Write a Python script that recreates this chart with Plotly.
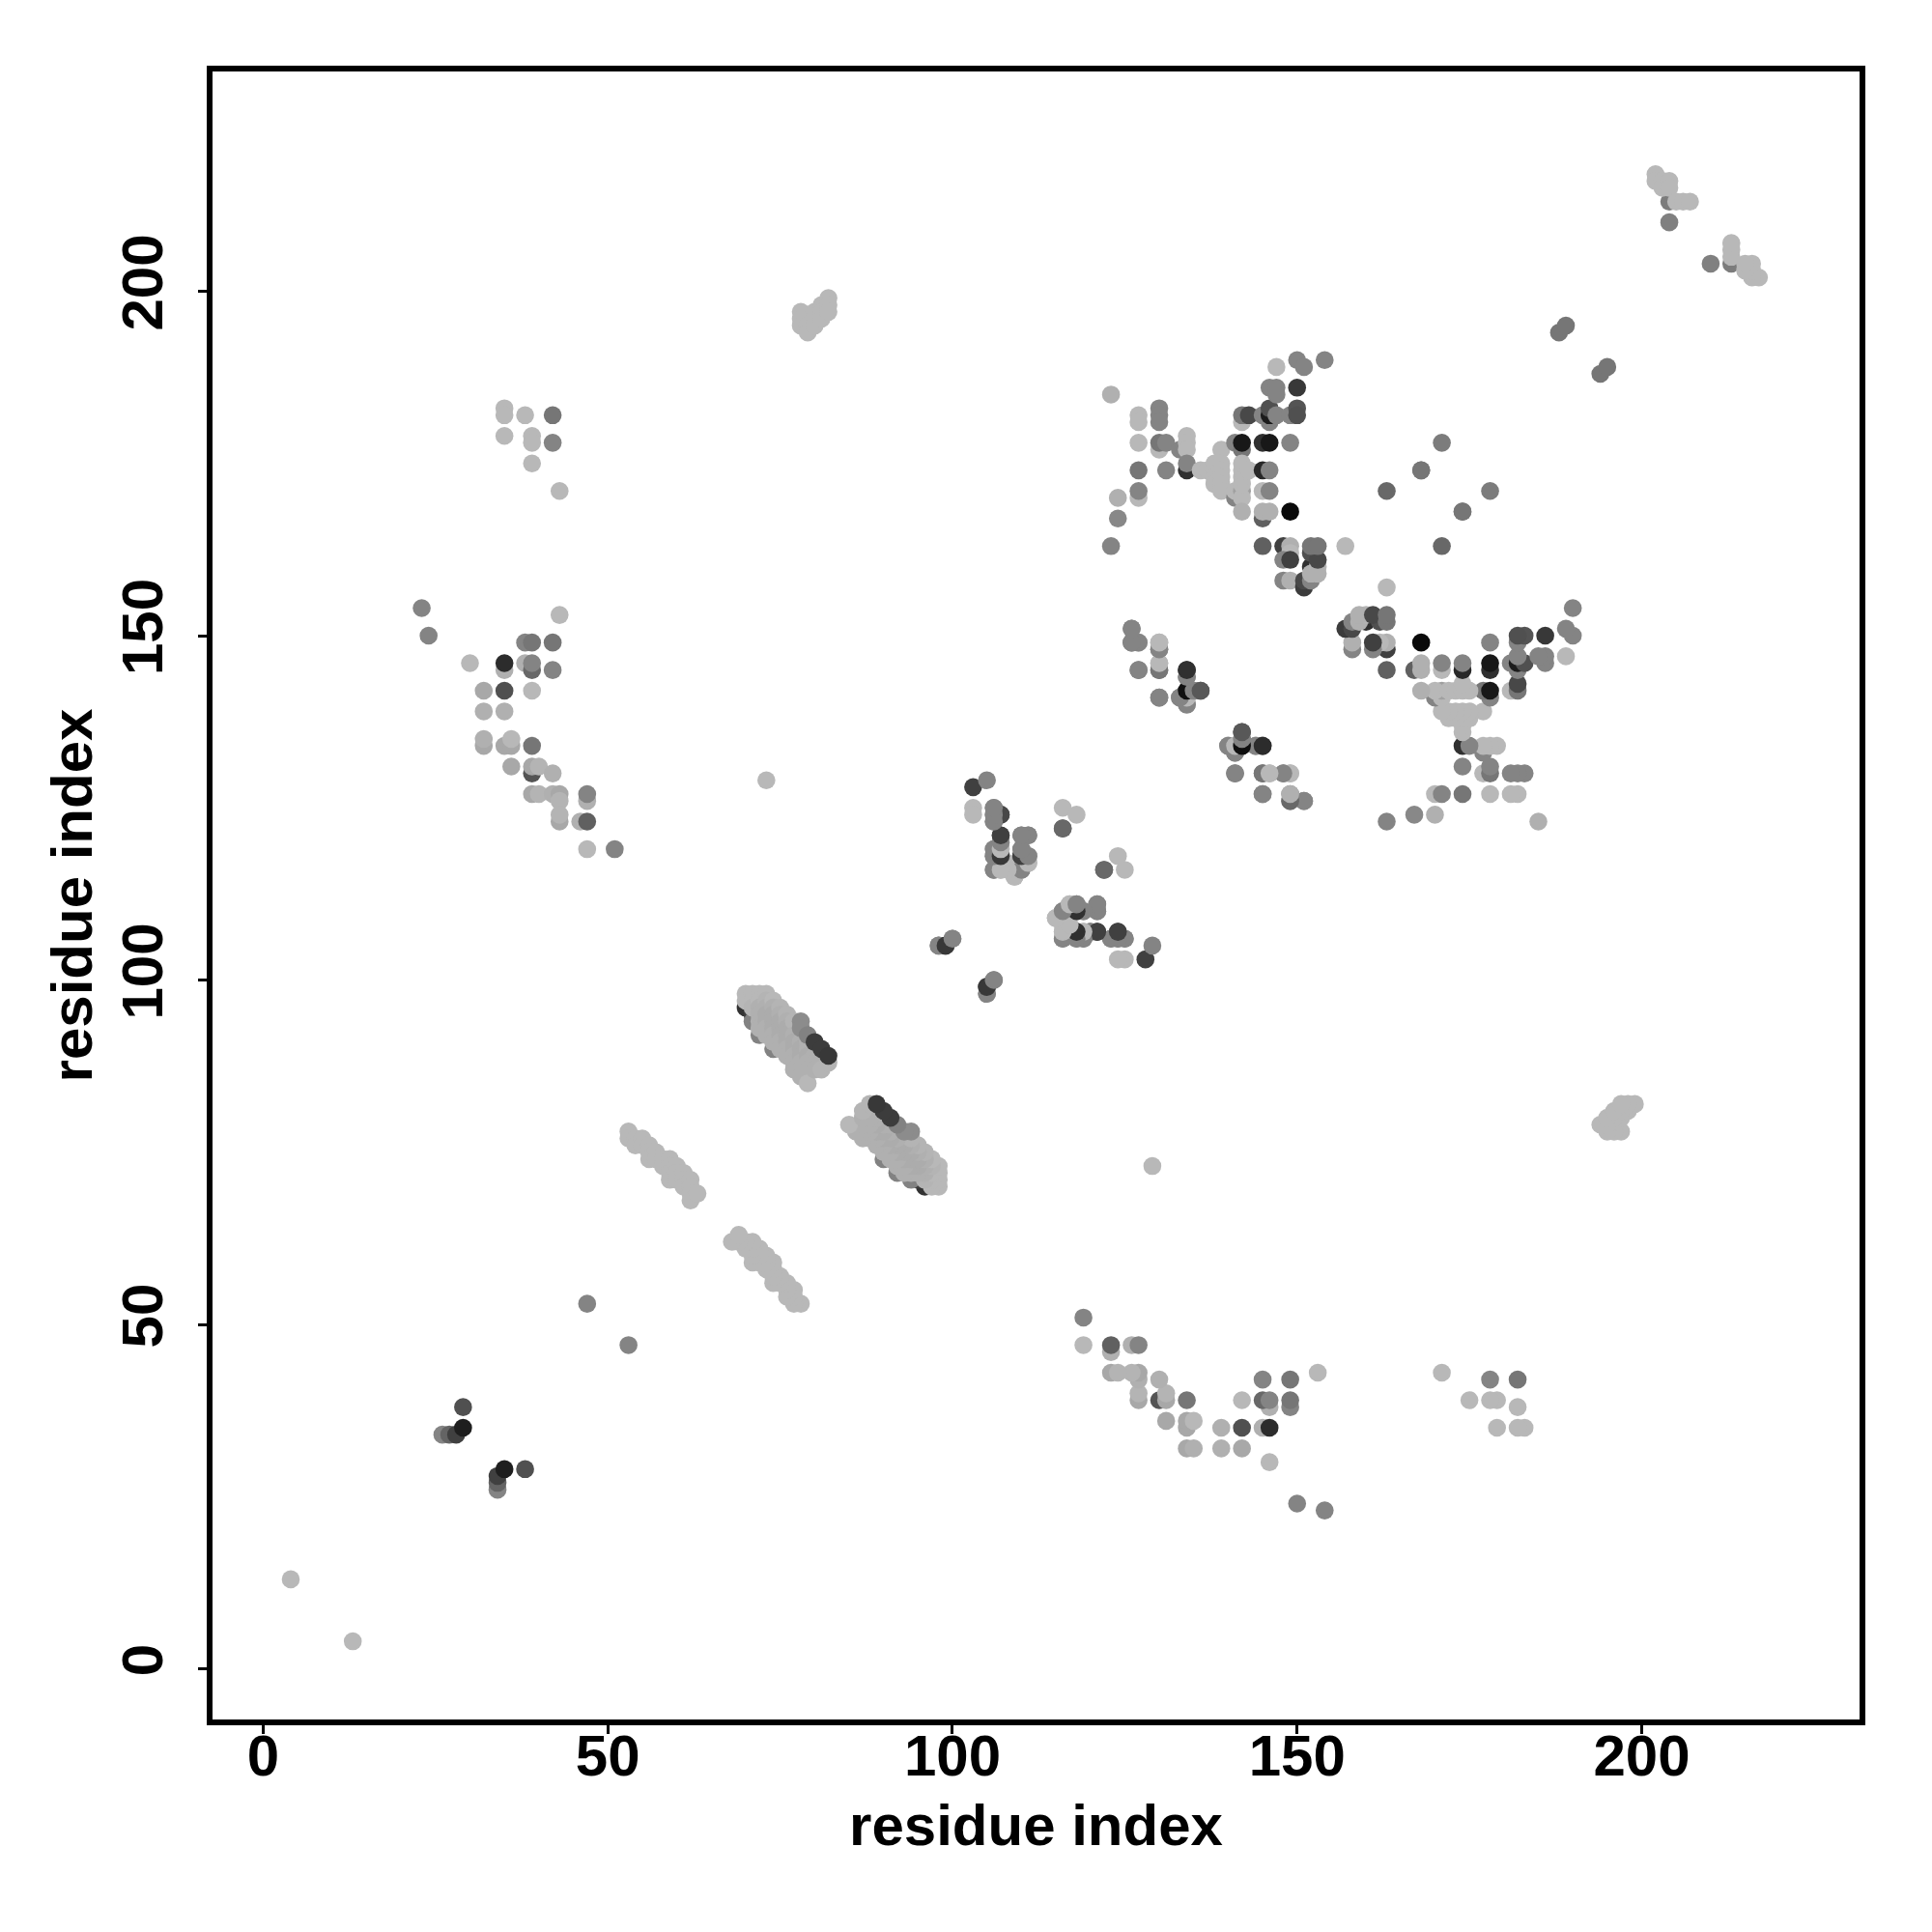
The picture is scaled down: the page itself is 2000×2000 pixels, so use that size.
import plotly.graph_objects as go

# contacts: (residue i, residue j, grey level); the map is symmetric, each pair is drawn at (i,j) and (j,i)
short_range = [(4,13,184),(47,53,132),(73,129,184),(26,34,132),(27,34,100),(28,34,64),(29,38,80),(29,35,30)]

strand_pair_a = [(53,78,184),(53,77,184),(54,77,184),(54,76,184),(55,77,184),(55,76,184),(56,76,184),(56,75,184),
    (56,74,184),(57,75,184),(57,74,184),(58,74,184),(58,73,184),(59,74,184),(59,73,184),(59,72,184),(59,71,184),
    (60,73,184),(60,72,184),(60,71,184),(61,72,184),(61,71,184),(61,70,184),(62,71,184),(62,70,184),(62,69,184),
    (62,68,184),(63,69,184)]

strand_pair_b_under = [(70,96,50),(71,95,60),(71,94,130),(72,92,130),(74,90,130)]
strand_pair_b = [(70,98,184),(70,97,184),(71,98,184),(71,97,184),(71,96,180),(72,98,184),(72,97,184),(72,96,176),
    (72,95,176),(72,94,176),(72,93,176),(73,98,184),(73,97,180),(73,96,176),(73,95,172),(73,94,172),(73,93,176),(73,92,176),(74,97,184),
    (74,96,176),(74,95,172),(74,94,172),(74,93,172),(74,92,176),(74,91,176),(75,96,180),(75,95,176),(75,94,172),
    (75,93,172),(75,92,172),(75,91,176),(75,90,176),(76,95,180),(76,94,176),(76,93,172),(76,92,172),(76,91,172),
    (76,90,176),(76,89,176),(77,94,180),(77,92,176),(77,91,172),(77,90,172),(77,89,176),(77,88,176),(77,87,176),(78,91,176),(78,90,172),
    (78,89,172),(78,88,176),(78,87,176),(78,86,176),(79,91,176),(79,90,176),(79,89,172),(79,88,176),(79,87,176),(79,85,184),
    (80,89,176),(80,88,176),(80,87,176),(81,88,176),(81,87,180),(82,88,180)]
strand_pair_b_over = [(78,94,140),(78,93,140),(79,92,130),(80,91,60),(81,90,60),(82,89,56)]

small_patches = [(78,197,184),(78,196,184),(78,195,184),(79,195,184),(79,194,184),(80,197,184),(80,196,184),(80,195,184),
    (81,198,184),(81,197,184),(81,196,184),(82,199,184),(82,198,184),(82,197,184),
    (204,213,124),(202,217,184),(202,216,184),(203,216,184),(203,215,184),(204,216,184),(204,215,184),(205,213,184),
    (206,213,184),(207,213,184),(204,210,128),(188,194,118),(189,195,118),(98,105,132),(99,105,56),(100,106,132),(105,98,132)]
near_diag_105 = [(105,99,56),(106,100,132)]

cluster_103_129 = [(103,128,64),(105,129,132),(103,125,184),(103,124,184),(106,125,132),(106,124,132),(106,123,132),(107,124,64),
    (107,120,132),(107,121,64),(106,119,132),(107,119,184),(106,118,132),(106,116,132),(107,118,48),(107,116,184),
    (108,117,184),(109,116,184),(109,115,184),(110,121,132),(111,121,132),(110,119,132),(110,118,48),(110,116,132),
    (111,117,184),(111,118,132),(116,125,184),(118,124,184),(116,122,104),(122,116,104),
    (115,109,184),(116,110,132),(117,111,184),(118,110,64),(118,111,132),(119,110,132),(121,111,132),(121,110,132),
    (116,108,184),(116,106,132),(116,107,184),(118,106,132),(119,106,132),(118,107,56),(119,107,184),(120,107,132),
    (121,107,64),(124,107,72),(123,106,132),(124,106,132),(125,106,132)]

cluster_126_151 = [(126,151,132),(126,149,104),(127,149,176),(127,145,132),(130,149,184),(130,148,132),(130,145,118),(130,146,184),
    (130,141,132),(133,141,132),(134,140,132),(134,141,184),(134,144,132),(134,145,44),(134,142,16),(135,142,132),(136,142,88),
    (140,134,132),(141,134,184),(141,133,132),(142,134,16),(142,135,132),(142,136,88),(144,134,132),(145,134,48),
    (141,130,132),(145,130,118),(146,130,184),(148,130,132),(149,130,184),(145,127,132),(149,127,132),(149,126,132),(151,126,132)]

cluster_123_190 = [(123,185,176),(127,182,184),(127,181,184),(130,183,132),(130,182,132),(130,181,132),
    (127,178,184),(130,177,184),(130,178,118),(131,178,132),(133,177,132),(134,179,184),(134,178,184),(134,177,184),
    (127,174,118),(131,174,132),(134,174,48),(134,175,132),(136,174,184),(137,174,184),(139,177,184),
    (138,175,184),(138,174,184),(138,173,184),(138,172,184),(139,175,184),(139,174,184),(139,173,184),(139,172,184),(139,171,184),
    (141,178,132),(142,177,118),(142,178,24),(141,170,132),(141,171,184),(142,171,160),(142,170,184),(142,172,184),(142,173,184),
    (142,174,184),(142,175,184),(143,174,184),(142,168,176),
    (127,170,184),(127,171,132),(124,170,176),(124,167,136),(123,163,132),
    (145,178,48),(146,178,24),(145,174,40),(146,174,132),(149,178,132),(145,171,184),(146,171,132),
    (145,167,96),(145,168,176),(146,168,176),(149,168,10),(142,181,184),(142,182,118),(143,182,72),(145,182,132),
    (146,181,132),(146,182,28),(146,183,80),(147,182,132),(149,182,132),(150,183,84),(150,182,80),
    (147,189,184),(146,186,132),(147,186,132),(147,185,132),(150,186,56),(150,190,132),(151,189,132),(154,190,132),(163,171,104)]

cluster_148_163 = [(145,163,96),(148,163,64),(149,163,176),(149,162,184),(148,161,132),(149,161,64),(148,158,132),(149,158,176),
    (151,157,60),(151,158,72),(152,158,132),(152,160,48),(152,159,176),(153,160,180),(153,159,176),(152,162,80),(153,161,72),
    (152,163,118),(153,163,118),(157,163,184)]

cluster_168_178 = [(168,174,118),(171,178,124),(174,168,118)]

cluster_23_51 = [(23,154,132),(24,150,132),(43,153,184),(38,149,132),(39,149,118),(42,149,118),(30,146,184),(35,145,176),(35,146,44),
    (38,146,176),(39,145,104),(39,146,132),(42,145,132),(32,142,168),(35,142,80),(39,142,184),(32,139,176),(35,139,176),
    (32,134,168),(32,135,176),(35,134,168),(36,134,168),(36,135,184),(39,134,118),(36,131,168),(39,130,84),(39,131,168),(40,131,180),(42,130,176),
    (39,127,168),(40,127,180),(42,127,176),(43,127,168),(43,126,180),(47,126,176),(47,127,132),(43,123,168),(43,124,180),(46,123,176),(47,123,96),
    (47,119,184),(51,119,132)]

cluster_35_43 = [(35,183,184),(35,182,184),(35,179,184),(38,182,184),(39,179,184),(39,178,184),(39,175,184),(42,182,118),(42,178,132),(43,171,184)]

tick_values = [0, 50, 100, 150, 200]
axis_title = "residue index"

all_contacts = (short_range + strand_pair_a + strand_pair_b_under + strand_pair_b + strand_pair_b_over + small_patches
    + near_diag_105 + cluster_103_129 + cluster_126_151 + cluster_123_190 + cluster_148_163 + cluster_168_178
    + cluster_23_51 + cluster_35_43)

xs = [c[0] for c in all_contacts] + [c[1] for c in all_contacts]
ys = [c[1] for c in all_contacts] + [c[0] for c in all_contacts]
cols = [f"rgb({c[2]},{c[2]},{c[2]})" for c in all_contacts] * 2

font = "Liberation Sans"
fig = go.Figure(go.Scatter(x=xs, y=ys, mode="markers", marker=dict(size=18.6, color=cols, line=dict(width=0))))

axis_common = dict(
    tickmode="array", tickvals=tick_values, ticktext=[str(v) for v in tick_values],
    showgrid=False, zeroline=False, showline=True, mirror=True, linecolor="black", linewidth=6,
    ticks="outside", ticklen=9, tickwidth=3, tickcolor="black",
    tickfont=dict(family=font, size=60, color="black", weight="bold"),
)
fig.update_xaxes(range=[-7.35, 231.6], ticklabelstandoff=-29,
                 title=dict(text=axis_title, font=dict(family=font, size=60, color="black", weight="bold"), standoff=20), **axis_common)
fig.update_yaxes(range=[-7.35, 231.9], tickangle=-90, ticklabelstandoff=13,
                 title=dict(text=axis_title, font=dict(family=font, size=60, color="black", weight="bold"), standoff=1), **axis_common)
fig.update_layout(width=2000, height=2000, margin=dict(l=219.5, r=74.5, t=73.5, b=219.5), paper_bgcolor="white", plot_bgcolor="white", showlegend=False)
fig.write_html("out.html", post_script="document.body.style.margin='0';", config=dict(displayModeBar=False))
